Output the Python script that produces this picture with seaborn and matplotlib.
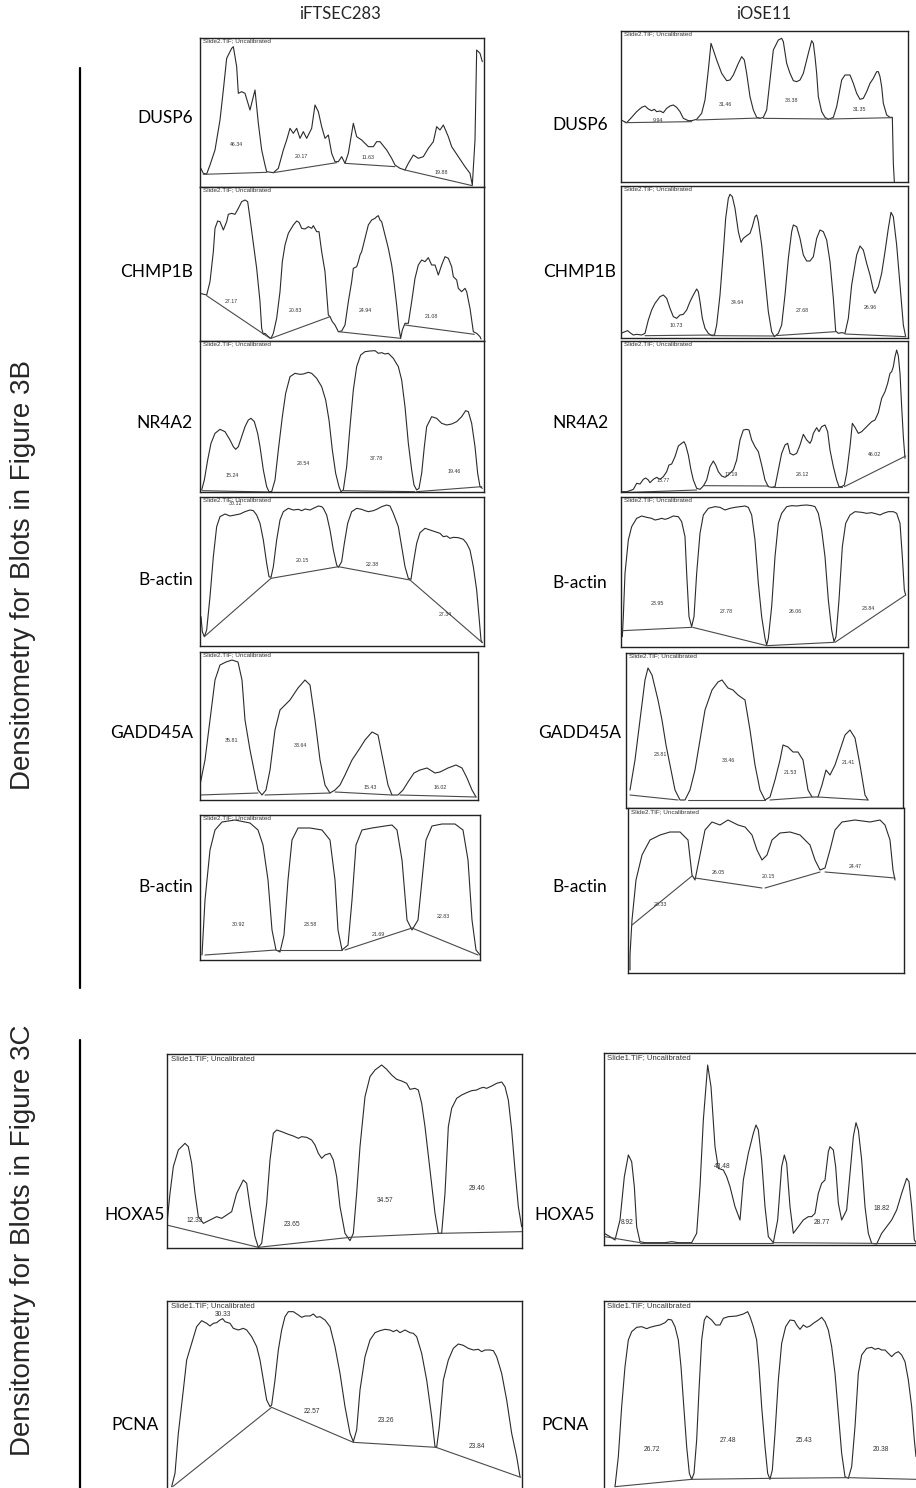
import matplotlib
matplotlib.use("Agg")
import matplotlib.pyplot as plt
import pandas as pd
import seaborn as sns

sns.set_theme(style="white")
plt.rcParams['font.family'] = ['DejaVu Sans']

# ---------------------------------------------------------------- data
cell_lines = ["iFTSEC283", "iOSE11"]
genes_3b = ["DUSP6", "CHMP1B", "NR4A2", "B-actin", "GADD45A", "B-actin"]
genes_3c = ["HOXA5", "PCNA"]
side_titles = ["Densitometry for Blots in Figure 3B", "Densitometry for Blots in Figure 3C"]
slide_3b = "Slide2.TIF; Uncalibrated"
slide_3c = "Slide1.TIF; Uncalibrated"

# density profiles: (lane position, depth from top of the plot window)
dusp6_ift = [(15,380),(25,400),(35,402),(45,375),(60,330),(75,240),(85,150),(95,55),(110,25),(115,20),(125,80),(130,160),(140,155),(150,160),(165,210),(180,150),(190,250),(200,330),(210,375),(215,395),(235,398),(250,385),(265,330),(275,300),(285,265),(295,280),(305,265),(315,295),(325,275),(335,295),(350,265),(360,195),(370,215),(380,260),(390,295),(400,285),(410,340),(420,365),(430,365),(440,350),(450,370),(460,340),(475,250),(485,290),(500,300),(520,320),(535,320),(545,305),(555,305),(575,330),(590,355),(600,375),(615,385),(630,390),(640,370),(655,345),(670,355),(685,350),(700,325),(715,305),(725,260),(735,270),(745,255),(760,290),(770,320),(790,350),(810,380),(825,400),(832,435),(840,300),(845,30),(855,40),(862,65)]
dusp6_ift_base = [[(25,403),(215,397)],[(235,398),(425,368)],[(450,370),(600,380)],[(630,390),(832,437)]]
dusp6_ift_pct = ["46.34","20.17","11.63","19.88"]

dusp6_iose = [(18,270),(35,278),(50,262),(65,245),(80,232),(90,228),(100,237),(110,242),(118,238),(125,245),(135,243),(145,248),(155,235),(165,228),(175,225),(185,232),(195,245),(205,265),(220,272),(230,272),(245,268),(260,250),(270,210),(280,120),(288,40),(295,60),(305,90),(320,130),(335,152),(345,150),(355,135),(370,100),(380,80),(388,90),(395,130),(405,200),(415,240),(425,262),(435,265),(445,262),(455,240),(465,150),(475,60),(490,30),(500,25),(505,35),(515,100),(525,130),(535,152),(545,155),(555,150),(565,130),(580,70),(590,32),(595,40),(600,80),(605,130),(610,200),(620,245),(630,262),(640,268),(655,262),(665,230),(680,150),(690,135),(705,135),(715,160),(725,190),(735,208),(745,205),(755,185),(765,160),(775,145),(785,125),(790,125),(795,140),(800,170),(805,220),(815,255),(825,262),(832,262),(835,400),(838,455)]
dusp6_iose_base = [[(30,278),(230,275)],[(245,270),(435,264)],[(445,265),(640,267)],[(645,267),(832,263)]]
dusp6_iose_pct = ["9.94","31.46","38.38","31.35"]

chmp1b_ift = [(15,325),(35,330),(45,290),(55,200),(60,130),(68,108),(75,110),(85,135),(95,110),(100,88),(110,85),(120,88),(130,70),(140,50),(150,45),(158,50),(165,100),(175,175),(185,250),(195,350),(200,430),(205,448),(210,445),(220,455),(228,460),(235,445),(245,400),(255,320),(262,230),(270,180),(280,145),(295,120),(305,108),(312,112),(320,130),(330,132),(340,125),(350,130),(355,122),(365,140),(372,140),(380,200),(390,260),(400,390),(405,395),(412,410),(420,420),(430,440),(440,438),(450,420),(460,350),(470,290),(475,250),(485,245),(490,230),(495,210),(500,200),(510,160),(520,120),(530,105),(540,100),(545,95),(550,92),(555,105),(560,110),(570,150),(580,190),(585,215),(590,240),(595,275),(605,360),(612,430),(617,460),(622,435),(630,415),(640,415),(650,350),(660,280),(670,240),(680,225),(690,230),(700,218),(710,240),(720,240),(730,270),(740,240),(750,215),(760,220),(770,245),(775,275),(785,285),(790,310),(800,320),(810,310),(815,320),(825,370),(835,440),(845,445),(855,455),(858,462)]
chmp1b_ift_base = [[(35,332),(225,460)],[(228,460),(405,395)],[(430,440),(617,460)],[(630,420),(838,448)]]
chmp1b_ift_pct = ["27.17","20.83","24.94","21.08"]

chmp1b_iose = [(18,445),(30,440),(38,437),(45,443),(55,450),(65,448),(80,450),(90,445),(100,405),(110,375),(120,355),(135,335),(145,330),(155,340),(165,370),(175,395),(185,400),(195,390),(205,388),(215,375),(225,350),(235,330),(245,312),(250,320),(255,350),(262,400),(270,430),(280,445),(290,452),(298,452),(305,420),(315,330),(325,200),(332,100),(340,40),(345,28),(352,35),(360,70),(370,140),(378,172),(385,160),(395,152),(405,145),(412,125),(420,95),(425,90),(430,110),(440,180),(450,280),(460,380),(470,440),(478,455),(490,445),(500,420),(510,330),(520,220),(530,140),(535,120),(545,125),(555,160),(565,210),(575,228),(585,228),(595,215),(605,160),(615,135),(625,140),(635,165),(645,230),(655,340),(662,438),(670,445),(680,443),(690,445),(700,400),(710,300),(725,210),(735,183),(745,195),(755,235),(765,270),(775,315),(780,325),(790,305),(800,265),(810,200),(820,130),(828,82),(835,95),(845,180),(855,300),(865,420),(872,455)]
chmp1b_iose_base = [[(90,452),(298,450)],[(300,452),(478,453)],[(480,452),(662,440)],[(690,447),(872,455)]]
chmp1b_iose_pct = ["10.73","34.64","27.68","26.96"]

nr4a2_ift = [(20,450),(28,420),(38,360),(48,310),(60,280),(75,268),(90,275),(105,300),(115,320),(122,328),(130,320),(140,290),(150,260),(160,240),(168,235),(178,245),(188,280),(195,320),(205,390),(215,440),(222,455),(230,455),(240,420),(250,330),(262,230),(272,160),(285,110),(300,100),(315,103),(325,102),(340,97),(350,100),(365,115),(380,140),(392,180),(402,240),(412,330),(422,400),(432,440),(438,455),(445,450),(455,380),(465,260),(475,150),(485,80),(497,45),(510,35),(525,33),(540,32),(550,40),(560,38),(570,42),(580,40),(595,55),(610,80),(620,120),(630,200),(640,310),(650,390),(657,435),(665,450),(672,445),(680,400),(688,320),(695,260),(710,230),(725,235),(740,250),(755,255),(770,252),(785,245),(800,230),(812,212),(820,215),(830,250),(840,320),(848,400),(855,440),(862,445)]
nr4a2_ift_base = [[(22,452),(222,456)],[(230,455),(438,455)],[(445,452),(660,455)],[(665,455),(860,440)]]
nr4a2_ift_pct = ["15.24","28.54","37.78","19.46"]

nr4a2_iose = [(22,455),(35,455),(45,452),(55,448),(65,430),(75,432),(85,418),(92,414),(100,420),(105,428),(115,418),(125,412),(135,418),(145,410),(155,395),(162,375),(170,372),(180,350),(190,318),(200,310),(207,305),(212,315),(220,345),(228,390),(235,420),(245,445),(255,448),(265,438),(275,420),(285,380),(295,363),(302,375),(310,395),(320,408),(330,412),(340,405),(350,395),(355,390),(365,360),(375,300),(385,270),(395,268),(402,270),(410,300),(420,320),(430,335),(440,375),(450,420),(460,440),(470,442),(480,440),(490,390),(500,340),(510,315),(518,310),(525,340),(535,345),(545,340),(555,315),(565,283),(575,300),(585,310),(590,300),(595,280),(605,263),(612,275),(620,260),(630,255),(638,275),(645,330),(655,380),(665,420),(672,440),(680,440),(688,435),(695,400),(705,320),(712,250),(720,262),(730,280),(740,275),(750,265),(760,255),(770,245),(780,240),(790,218),(800,175),(810,155),(818,130),(825,100),(830,95),(835,80),(840,50),(845,30),(850,48),(855,100),(860,200),(865,290),(870,355)]
nr4a2_iose_base = [[(22,458),(245,450)],[(265,437),(460,438)],[(470,442),(680,442)],[(688,440),(872,348)]]
nr4a2_iose_pct = ["13.77","17.19","28.12","46.02"]

actin1_ift = [(18,380),(22,425),(28,440),(35,420),(45,320),(55,200),(65,110),(75,80),(90,72),(105,78),(120,75),(135,72),(150,65),(165,60),(175,62),(185,75),(195,100),(205,150),(215,220),(222,260),(228,262),(235,230),(245,150),(255,90),(265,65),(280,55),(295,60),(310,58),(320,62),(330,57),(345,60),(355,55),(370,48),(380,50),(385,55),(395,75),(405,120),(415,180),(425,225),(430,232),(440,215),(448,160),(458,100),(470,65),(485,55),(500,58),(510,62),(520,65),(535,62),(545,58),(560,50),(575,45),(585,48),(595,70),(610,110),(620,170),(630,230),(640,265),(648,268),(655,220),(665,160),(675,128),(690,115),(705,120),(720,125),(735,130),(745,140),(755,138),(765,145),(775,142),(790,143),(805,148),(815,160),(825,180),(835,230),(845,300),(852,380),(858,450),(862,458)]
actin1_ift_base = [[(28,440),(228,265)],[(228,265),(430,230)],[(430,230),(645,270)],[(645,270),(862,458)]]
actin1_ift_pct = ["30.12","20.15","22.38","27.34"]

actin1_iose = [(22,440),(25,380),(30,250),(40,150),(50,110),(65,85),(80,78),(95,82),(110,85),(120,90),(130,88),(140,85),(150,88),(160,85),(175,78),(190,80),(200,95),(210,140),(215,250),(222,380),(230,410),(237,380),(245,250),(255,130),(265,75),(280,55),(300,50),(315,52),(330,60),(345,55),(360,52),(375,50),(390,48),(400,52),(410,75),(420,150),(430,280),(440,380),(450,445),(455,465),(460,445),(470,350),(480,200),(490,100),(500,70),(515,50),(530,47),(545,48),(560,46),(575,45),(590,47),(600,50),(610,70),(620,120),(630,200),(640,330),(650,420),(657,455),(663,440),(672,330),(682,170),(692,100),(705,75),(720,65),(740,67),(755,70),(770,68),(785,72),(795,75),(805,70),(820,65),(835,65),(845,70),(855,100),(862,200),(868,300),(872,315)]
actin1_iose_base = [[(22,422),(230,412)],[(233,412),(455,467)],[(455,467),(657,457)],[(660,457),(872,315)]]
actin1_iose_pct = ["23.95","27.78","26.06","23.84"]

gadd45a_ift = [(200,785),(205,760),(210,720),(215,680),(220,665),(226,662),(232,660),(238,662),(242,680),(245,720),(250,750),(255,775),(258,790),(262,795),(266,790),(270,770),(275,730),(280,710),(290,700),(298,688),(305,680),(310,685),(315,720),(320,760),(325,785),(330,793),(335,790),(340,785),(345,775),(352,760),(360,748),(365,740),(372,732),(378,735),(383,760),(388,785),(392,795),(398,795),(403,790),(408,782),(414,773),(420,770),(427,768),(435,773),(440,772),(448,768),(456,765),(462,768),(467,778),(472,790),(476,797)]
gadd45a_ift_base = [[(200,795),(258,793)],[(265,795),(330,793)],[(335,792),(392,795)],[(400,795),(476,797)]]
gadd45a_ift_pct = ["35.81","33.64","15.43","16.02"]

gadd45a_iose = [(630,790),(635,760),(640,720),(645,680),(648,668),(652,675),(658,700),(662,720),(666,745),(670,765),(675,790),(680,800),(685,800),(690,790),(695,770),(700,740),(705,710),(712,690),(718,682),(722,680),(728,688),(733,690),(738,695),(745,700),(750,730),(755,765),(760,790),(765,800),(770,797),(775,780),(780,760),(783,745),(788,747),(793,752),(798,752),(803,760),(808,790),(812,797),(818,797),(822,785),(826,770),(830,775),(835,765),(840,750),(845,735),(850,730),(855,738),(860,765),(865,795),(868,800)]
gadd45a_iose_base = [[(630,795),(678,800)],[(688,800),(765,800)],[(770,800),(812,797)],[(818,797),(868,800)]]
gadd45a_iose_pct = ["23.81","33.46","21.53","21.41"]

actin2_ift = [(202,955),(205,900),(210,850),(215,830),(222,822),(235,820),(250,823),(258,830),(263,845),(268,880),(272,930),(276,950),(280,952),(284,935),(288,880),(292,840),(298,828),(310,828),(322,830),(330,840),(335,880),(338,930),(342,950),(348,945),(352,900),(356,845),(362,830),(372,828),(385,826),(392,825),(397,830),(402,860),(407,920),(412,930),(418,920),(422,880),(426,840),(432,826),(442,824),(455,824),(463,830),(468,860),(472,920),(476,950),(480,955)]
actin2_ift_base = [[(205,955),(276,950)],[(278,950),(342,950)],[(345,950),(412,928)],[(412,928),(478,955)]]
actin2_ift_pct = ["30.92","23.58","21.69","22.83"]

actin2_iose = [(630,970),(630,955),(632,920),(636,880),(642,855),(650,840),(660,835),(670,832),(680,832),(688,840),(692,875),(695,880),(700,855),(705,830),(712,822),(720,825),(728,820),(738,825),(745,827),(752,835),(757,850),(762,860),(767,855),(772,840),(780,833),(790,832),(800,835),(805,840),(810,845),(815,860),(820,870),(825,868),(830,850),(835,830),(842,822),(855,820),(870,822),(880,820),(885,825),(890,840),(893,870),(895,880)]
actin2_iose_base = [[(632,925),(692,876)],[(695,878),(762,888)],[(765,888),(820,872)],[(825,872),(895,878)]]
actin2_iose_pct = ["28.33","26.05","20.15","24.47"]

hoxa5_ift = [(20,620),(30,520),(40,440),(55,390),(75,370),(85,380),(95,430),(105,520),(115,590),(130,610),(150,600),(170,590),(185,595),(200,585),(215,575),(230,520),(250,480),(260,490),(270,560),(285,650),(295,682),(305,670),(320,550),(330,420),(340,340),(350,330),(365,335),(385,343),(400,348),(415,355),(425,350),(440,352),(455,360),(465,375),(475,400),(485,415),(495,405),(510,400),(520,420),(530,470),(540,560),(555,640),(570,662),(580,640),(590,520),(600,380),(615,230),(630,170),(645,150),(665,135),(680,148),(695,165),(710,178),(725,183),(740,190),(750,208),(765,205),(775,210),(785,250),(795,320),(810,450),(825,580),(835,640),(845,640),(855,520),(865,320),(875,265),(890,235),(905,225),(920,218),(935,212),(950,210),(960,205),(970,202),(980,205),(995,198),(1010,190),(1025,186),(1035,200),(1045,240),(1055,330),(1065,450),(1075,560),(1085,620)]
hoxa5_ift_base = [[(20,615),(295,682)],[(295,682),(570,652)],[(570,652),(840,640)],[(840,640),(1085,635)]]
hoxa5_ift_pct = ["12.33","23.65","34.57","29.46"]

hoxa5_iose = [(28,640),(45,650),(60,660),(75,600),(88,470),(100,405),(110,425),(118,500),(125,620),(135,665),(150,668),(170,668),(190,668),(210,668),(230,665),(250,668),(270,668),(290,668),(305,640),(315,500),(325,300),(338,135),(348,200),(360,380),(370,445),(385,450),(395,470),(405,500),(420,560),(435,600),(445,480),(460,400),(475,340),(483,315),(490,330),(500,420),(510,560),(520,650),(535,668),(548,600),(560,440),(568,405),(575,430),(585,560),(595,640),(610,620),(625,600),(640,590),(650,590),(660,580),(670,520),(680,490),(690,480),(700,395),(705,380),(715,390),(722,440),(730,550),(740,600),(755,570),(765,460),(775,350),(783,308),(790,330),(800,420),(810,560),(820,640),(830,670),(845,672),(860,640),(875,620),(890,600),(905,570),(920,520),(935,475),(942,485),(950,560),(958,660),(965,670)]
hoxa5_iose_base = [[(30,650),(135,668)],[(135,668),(535,668)],[(535,668),(830,670)],[(830,670),(965,670)]]
hoxa5_iose_pct = ["8.92","43.48","28.77","18.82"]

pcna_ift = [(35,740),(45,700),(55,580),(70,450),(80,360),(95,310),(110,260),(125,242),(140,250),(150,258),(160,250),(170,248),(180,240),(188,236),(195,245),(210,250),(220,265),(235,270),(250,265),(260,270),(275,290),(290,320),(300,360),(310,420),(320,480),(330,500),(335,495),(345,420),(355,330),(365,270),(375,230),(385,215),(400,215),(415,225),(425,232),(435,228),(450,228),(460,222),(470,232),(480,230),(495,240),(510,260),(525,320),(540,400),(555,500),(570,580),(580,605),(590,570),(600,450),(615,350),(630,300),(645,278),(660,272),(675,268),(690,270),(700,275),(710,270),(720,278),(735,270),(750,278),(760,280),(770,290),(785,340),(800,420),(815,530),(825,620),(830,622),(838,560),(850,420),(865,360),(880,325),(895,312),(910,316),(925,325),(940,330),(955,328),(965,335),(975,330),(990,330),(1000,332),(1010,350),(1025,400),(1040,480),(1055,580),(1070,650),(1080,710)]
pcna_ift_base = [[(38,740),(335,502)],[(335,502),(580,607)],[(580,607),(828,622)],[(828,622),(1082,712)]]
pcna_ift_pct = ["30.33","22.57","23.26","23.84"]

pcna_iose = [(60,740),(70,650),(80,500),(90,380),(100,300),(110,275),(125,262),(140,260),(155,266),(165,262),(180,258),(195,255),(210,248),(220,238),(230,240),(240,260),(250,300),(258,380),(265,480),(275,620),(283,700),(290,718),(297,700),(305,600),(312,450),(320,300),(328,240),(335,228),(350,240),(362,255),(375,255),(385,235),(400,230),(425,228),(445,222),(458,215),(465,230),(475,260),(485,300),(492,380),(500,500),(510,620),(518,700),(525,718),(532,690),(540,580),(550,420),(560,310),(572,260),(585,240),(598,242),(605,255),(615,268),(625,255),(635,262),(645,258),(655,250),(670,240),(680,232),(690,245),(700,270),(710,320),(720,400),(730,520),(740,640),(750,710),(760,715),(770,680),(780,560),(790,400),(800,345),(815,325),(830,322),(840,328),(850,325),(860,330),(870,330),(880,340),(890,350),(900,340),(910,335),(920,345),(930,365),(940,420),(950,500),(958,600),(963,650)]
pcna_iose_base = [[(60,740),(290,718)],[(290,718),(525,715)],[(525,715),(755,713)],[(760,713),(963,718)]]
pcna_iose_pct = ["26.72","27.48","25.43","20.38"]

# ---------------------------------------------------------------- layout
W, H = 916, 1488
fig = plt.figure(figsize=(W / 100, H / 100), dpi=100)

def fx(x):
    return x / W

def fy(y):
    return 1 - y / H

# panel: box (L,T,R,B) in px, reading frame (ox, oy, scale), label anchors
panels = [
    dict(name=genes_3b[0], col=0, box=(200, 38, 484, 187), frame=(195, 40, 3), tr=dusp6_ift, base=dusp6_ift_base, pct=dusp6_ift_pct,
         lab=[(125,312),(318,350),(520,352),(738,398)], gy=118, slide=slide_3b),
    dict(name=genes_3b[0], col=1, box=(621, 31, 908, 182), frame=(615, 30, 3), tr=dusp6_iose, base=dusp6_iose_base, pct=dusp6_iose_pct,
         lab=[(130,272),(330,222),(530,212),(735,238)], gy=125, slide=slide_3b),
    dict(name=genes_3b[1], col=0, box=(200, 187, 484, 341), frame=(195, 185, 3), tr=chmp1b_ift, base=chmp1b_ift_base, pct=chmp1b_ift_pct,
         lab=[(110,350),(300,375),(510,378),(710,395)], gy=272, slide=slide_3b),
    dict(name=genes_3b[1], col=1, box=(621, 186, 908, 338), frame=(615, 185, 3), tr=chmp1b_iose, base=chmp1b_iose_base, pct=chmp1b_iose_pct,
         lab=[(185,422),(368,353),(563,375),(765,368)], gy=272, slide=slide_3b),
    dict(name=genes_3b[2], col=0, box=(200, 341, 484, 492), frame=(195, 340, 3), tr=nr4a2_ift, base=nr4a2_ift_base, pct=nr4a2_ift_pct,
         lab=[(112,408),(325,370),(545,355),(778,395)], gy=423, slide=slide_3b),
    dict(name=genes_3b[2], col=1, box=(621, 341, 908, 492), frame=(615, 340, 3), tr=nr4a2_iose, base=nr4a2_iose_base, pct=nr4a2_iose_pct,
         lab=[(145,422),(350,403),(562,403),(780,343)], gy=423, slide=slide_3b),
    dict(name=genes_3b[3], col=0, box=(200, 497, 484, 646), frame=(195, 490, 3), tr=actin1_ift, base=actin1_ift_base, pct=actin1_ift_pct,
         lab=[(120,40),(322,212),(532,222),(750,375)], gy=580, slide=slide_3b),
    dict(name=genes_3b[3], col=1, box=(621, 497, 908, 647), frame=(615, 490, 3), tr=actin1_iose, base=actin1_iose_base, pct=actin1_iose_pct,
         lab=[(128,340),(335,365),(540,365),(760,357)], gy=583, slide=slide_3b),
    dict(name=genes_3b[4], col=0, box=(200, 652, 478, 800), frame=(0, 0, 1), tr=gadd45a_ift, base=gadd45a_ift_base, pct=gadd45a_ift_pct,
         lab=[(232,740),(300,745),(370,787),(440,787)], gy=733, slide=slide_3b),
    dict(name=genes_3b[4], col=1, box=(626, 653, 903, 808), frame=(0, 0, 1), tr=gadd45a_iose, base=gadd45a_iose_base, pct=gadd45a_iose_pct,
         lab=[(660,755),(728,760),(790,772),(848,762)], gy=733, slide=slide_3b),
    dict(name=genes_3b[5], col=0, box=(200, 815, 480, 960), frame=(0, 0, 1), tr=actin2_ift, base=actin2_ift_base, pct=actin2_ift_pct,
         lab=[(238,925),(310,925),(378,934),(443,916)], gy=887, slide=slide_3b),
    dict(name=genes_3b[5], col=1, box=(628, 808, 904, 973), frame=(0, 0, 1), tr=actin2_iose, base=actin2_iose_base, pct=actin2_iose_pct,
         lab=[(660,905),(718,872),(768,876),(855,866)], gy=887, slide=slide_3b),
    dict(name=genes_3c[0], col=0, box=(167, 1054, 522, 1248), frame=(160, 1020, 3), tr=hoxa5_ift, base=hoxa5_ift_base, pct=hoxa5_ift_pct,
         lab=[(105,603),(395,615),(675,540),(950,505)], gy=1215, slide=slide_3c),
    dict(name=genes_3c[0], col=1, box=(604, 1053, 920, 1245), frame=(595, 1020, 3), tr=hoxa5_iose, base=hoxa5_iose_base, pct=hoxa5_iose_pct,
         lab=[(96,606),(381,441),(681,606),(861,564)], gy=1215, slide=slide_3c),
    dict(name=genes_3c[1], col=0, box=(167, 1301, 522, 1492), frame=(160, 1240, 3), tr=pcna_ift, base=pcna_ift_base, pct=pcna_ift_pct,
         lab=[(188,222),(455,515),(678,540),(950,618)], gy=1425, slide=slide_3c),
    dict(name=genes_3c[1], col=1, box=(604, 1301, 920, 1492), frame=(595, 1240, 3), tr=pcna_iose, base=pcna_iose_base, pct=pcna_iose_pct,
         lab=[(170,628),(400,600),(628,603),(858,628)], gy=1425, slide=slide_3c),
]

label_font = ['Lato', 'DejaVu Sans']
trace_col = '#2b2b2b'
base_col = '#4a4a4a'

for i, p in enumerate(panels):
    L, T, R, B = p['box']
    ox, oy, s = p['frame']
    ax = fig.add_axes([fx(L), fy(B), fx(R - L), (B - T) / H])
    df = pd.DataFrame(p['tr'], columns=['pos', 'depth'])
    sns.lineplot(data=df, x='pos', y='depth', sort=False, estimator=None,
                 color=trace_col, linewidth=0.8, ax=ax)
    rows = []
    for k, seg in enumerate(p['base']):
        for (bx, by) in seg:
            rows.append((k, bx, by))
    bdf = pd.DataFrame(rows, columns=['seg', 'pos', 'depth'])
    sns.lineplot(data=bdf, x='pos', y='depth', units='seg', sort=False, estimator=None,
                 color=base_col, linewidth=0.8, ax=ax, legend=False)
    ax.set_xlim(s * (L - ox), s * (R - ox))
    ax.set_ylim(s * (B - oy), s * (T - oy))
    ax.set_xticks([]); ax.set_yticks([])
    ax.set_xlabel(''); ax.set_ylabel('')
    for sp in ax.spines.values():
        sp.set_color('#222222'); sp.set_linewidth(1.0); sp.set_visible(True)
    big = p['slide'] == slide_3c
    ax.text(0.012 if not big else 0.01, 0.995, p['slide'], transform=ax.transAxes, ha='left', va='top',
            fontsize=5.6 if big else 4.6, color='#333333', family=['Liberation Sans', 'DejaVu Sans'])
    for txt, (lx, ly) in zip(p['pct'], p['lab']):
        ax.text(lx, ly, txt, ha='center', va='center', fontsize=4.8 if big else 3.8,
                color='#333333', family=['Liberation Sans', 'DejaVu Sans'])
    # gene label
    if big:
        gx, ha = (135, 'center') if p['col'] == 0 else (565, 'center')
    else:
        gx, ha = (193, 'right') if p['col'] == 0 else (580, 'center')
    fig.text(fx(gx), fy(p['gy']), p['name'], ha=ha, va='center',
             fontsize=12.5, family=label_font, color='black')

# column headers
fig.text(fx(340), fy(14), cell_lines[0], ha='center', va='center', fontsize=12, family=label_font)
fig.text(fx(764), fy(14), cell_lines[1], ha='center', va='center', fontsize=12, family=label_font)

# side titles + brackets
fig.text(fx(23), fy(575), side_titles[0], rotation=90, ha='center', va='center',
         fontsize=20, family=['Liberation Sans', 'DejaVu Sans'])
fig.text(fx(23), fy(1240), side_titles[1], rotation=90, ha='center', va='center',
         fontsize=20, family=['Liberation Sans', 'DejaVu Sans'])
fig.add_artist(plt.Line2D([fx(80), fx(80)], [fy(68), fy(988)], color='black', linewidth=1.6))
fig.add_artist(plt.Line2D([fx(80), fx(80)], [fy(1040), fy(1488)], color='black', linewidth=1.6))

fig.savefig('out.png', dpi=100)
